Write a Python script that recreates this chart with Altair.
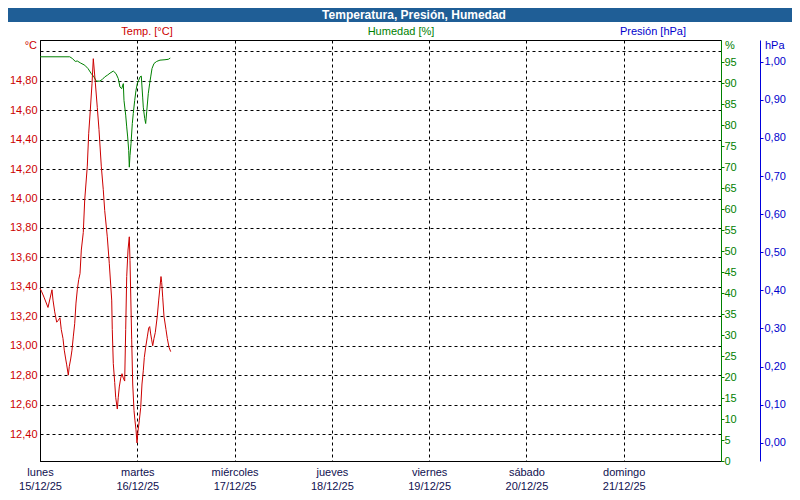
import altair as alt
import pandas as pd

# ---------------- data (hours since lunes 15/12/25 00:00) ----------------
temp_hours = [0, 0.37, 0.99, 1.97, 2.96, 3.21, 3.63, 4.12, 4.44, 4.93, 5.25, 5.67, 5.99, 6.34,
              6.59, 6.98, 7.23, 7.57, 7.89, 8.21, 8.56, 8.88, 9.20, 9.55, 9.87, 10.19, 10.68,
              11.03, 11.67, 12.01, 12.41, 12.83, 13.15, 13.64, 14.13, 14.55, 15.12, 15.61,
              15.96, 16.60, 17.09, 17.69, 17.83, 18.08, 18.43, 18.67, 19.07, 19.31, 19.56,
              19.91, 20.23, 20.55, 20.89, 21.14, 21.39, 21.71, 22.03, 22.20, 22.62, 22.87,
              23.19, 23.43, 23.68, 23.93, 24.17, 24.49, 24.84, 25.16, 25.48, 25.73, 26.07,
              26.47, 26.81, 27.06, 27.31, 27.55, 27.80, 28.12, 28.44, 28.93, 29.28, 29.60,
              29.85, 30.02, 30.27, 30.59, 31.08, 31.40, 31.82, 32.24]
temp_values = [13.39, 13.37, 13.33, 13.26, 13.38, 13.31, 13.23, 13.16, 13.17, 13.19, 13.11, 13.05,
               12.97, 12.91, 12.87, 12.80, 12.86, 12.91, 12.97, 13.06, 13.15, 13.29, 13.38, 13.45,
               13.49, 13.65, 13.77, 13.99, 14.22, 14.44, 14.60, 14.78, 14.95, 14.79, 14.62, 14.47,
               14.22, 14.06, 13.92, 13.74, 13.56, 13.31, 13.11, 12.88, 12.75, 12.65, 12.57, 12.65,
               12.72, 12.78, 12.81, 12.78, 12.76, 13.11, 13.47, 13.65, 13.74, 13.58, 13.04, 12.74,
               12.56, 12.49, 12.43, 12.34, 12.42, 12.49, 12.58, 12.74, 12.83, 12.92, 12.99, 13.06,
               13.12, 13.13, 13.08, 13.04, 13.00, 13.05, 13.09, 13.20, 13.31, 13.40, 13.47, 13.43,
               13.33, 13.20, 13.11, 13.05, 12.99, 12.96]

hum_hours = [0, 7.33, 7.97, 8.71, 9.20, 10.04, 11.03, 11.84, 12.65, 13.32, 13.89, 14.73, 15.37,
             15.96, 16.60, 17.27, 18.08, 18.75, 19.31, 19.73, 20.15, 20.55, 20.72, 21.14, 21.39,
             21.63, 21.88, 22.03, 22.20, 22.45, 22.77, 23.01, 23.36, 23.68, 24.00, 24.35, 24.67,
             24.99, 25.34, 25.48, 25.83, 26.07, 26.32, 26.71, 27.06, 27.31, 27.63, 28.12, 28.79,
             29.60, 30.83, 31.65, 32.14]
hum_values = [96.3, 96.3, 95.9, 95.2, 95.3, 94.8, 94.3, 93.5, 92.3, 91.5, 90.5, 90.5, 90.9,
              91.5, 91.9, 92.4, 92.9, 92.3, 91.1, 89.1, 88.7, 89.9, 85.9, 82.4, 79.6,
              77.2, 74.0, 70.0, 72.8, 75.6, 80.4, 82.8, 85.9, 88.3, 89.9, 90.7, 91.5,
              91.7, 86.5, 84.3, 81.6, 80.4, 83.2, 87.5, 90.0, 91.5, 93.5, 94.7, 95.2,
              95.5, 95.6, 95.7, 96.0]

day_names = ["lunes", "martes", "miércoles", "jueves", "viernes", "sábado", "domingo"]
day_dates = ["15/12/25", "16/12/25", "17/12/25", "18/12/25", "19/12/25", "20/12/25", "21/12/25"]
day_ticks = [0, 24, 48, 72, 96, 120, 144]
temp_ticks = [12.4, 12.6, 12.8, 13.0, 13.2, 13.4, 13.6, 13.8, 14.0, 14.2, 14.4, 14.6, 14.8, 15.0]
hum_ticks = [0, 5, 10, 15, 20, 25, 30, 35, 40, 45, 50, 55, 60, 65, 70, 75, 80, 85, 90, 95]
pres_ticks = [0.0, 0.1, 0.2, 0.3, 0.4, 0.5, 0.6, 0.7, 0.8, 0.9, 1.0]

# ---------------- style ----------------
FONT = "Liberation Sans"
RED = "#cc0000"
GREEN = "#008000"
BLUE = "#0000cc"
NAVY = "#101050"
BAR = "#1f5e96"
W, H = 681, 421

temp_df = pd.DataFrame({"h": temp_hours, "t": temp_values})
hum_df = pd.DataFrame({"h": hum_hours, "hum": hum_values})
pres_df = pd.DataFrame({"h": [0.0], "p": [0.5]})
one = pd.DataFrame({"a": [0]})

names_js = "[" + ",".join(f"'{n}'" for n in day_names) + "]"
dates_js = "[" + ",".join(f"'{d}'" for d in day_dates) + "]"

x_enc = alt.X(
    "h:Q",
    scale=alt.Scale(domain=[0, 168], nice=False, zero=False),
    axis=alt.Axis(
        values=day_ticks,
        labelExpr=f"[{names_js}[floor(datum.value/24)], {dates_js}[floor(datum.value/24)]]",
        title=None, grid=True, gridDash=[3, 3], gridColor="black", gridOpacity=1,
        domainColor="black", ticks=False, labelColor=NAVY, labelFont=FONT,
        labelFontSize=11, labelPadding=5, labelLineHeight=14, labelOverlap=False,
        labelFlush=False, labelBaseline="top",
    ),
)

pres = alt.Chart(pres_df).mark_point(opacity=0).encode(
    x=x_enc,
    y=alt.Y(
        "p:Q",
        scale=alt.Scale(domain=[-0.048, 1.057], nice=False, zero=False),
        axis=alt.Axis(
            orient="right", offset=39, values=pres_ticks, title=None, grid=False,
            labelExpr="replace(format(datum.value, '.2f'), '.', ',')",
            domainColor="#0000dd", tickColor="#0000dd", tickSize=3, labelPadding=1,
            labelColor=BLUE, labelFont=FONT, labelFontSize=11, labelOverlap=False,
            labelFlush=False,
        ),
    ),
)

hum = alt.Chart(hum_df).mark_line(color=GREEN, strokeWidth=1).encode(
    x=x_enc,
    y=alt.Y(
        "hum:Q",
        scale=alt.Scale(domain=[0, 100.3], nice=False, zero=False),
        axis=alt.Axis(
            orient="right", values=hum_ticks, title=None, grid=False,
            domainColor=GREEN, tickColor=GREEN, tickSize=3, labelPadding=0,
            labelColor=GREEN, labelFont=FONT, labelFontSize=11, labelOverlap=False,
            labelFlush=False,
        ),
    ),
)

temp = alt.Chart(temp_df).mark_line(color=RED, strokeWidth=1).encode(
    x=x_enc,
    y=alt.Y(
        "t:Q",
        scale=alt.Scale(domain=[12.217, 15.077], nice=False, zero=False),
        axis=alt.Axis(
            orient="left", values=temp_ticks, title=None, grid=True,
            gridDash=[3, 3], gridColor="black", gridOpacity=1, ticks=False,
            labelExpr="datum.value > 14.9 ? '' : replace(format(datum.value, '.2f'), '.', ',')",
            domainColor="black", labelPadding=3, labelColor=RED, labelFont=FONT,
            labelFontSize=11, labelOverlap=False, labelFlush=False,
        ),
    ),
)

bar = alt.Chart(one).mark_rect(color=BAR).encode(
    x=alt.value(-32), x2=alt.value(752), y=alt.value(-32), y2=alt.value(-18)
)


def label(text, x, y, color, align="center", size=11, weight="normal"):
    return alt.Chart(one).mark_text(
        text=text, color=color, align=align, baseline="middle", font=FONT,
        fontSize=size, fontWeight=weight,
    ).encode(x=alt.value(x), y=alt.value(y))


texts = [
    label("Temperatura, Presión, Humedad", 374, -25, "white", size=12, weight="bold"),
    label("Temp. [°C]", 107, -8, RED),
    label("Humedad [%]", 361, -8, GREEN),
    label("Presión [hPa]", 613, -8, BLUE),
    label("°C", -3, 6, RED, align="right"),
    label("%", 685, 6, GREEN, align="left"),
    label("hPa", 725, 6, BLUE, align="left"),
]

chart = (
    alt.layer(pres, hum, temp, bar, *texts)
    .resolve_scale(y="independent")
    .properties(
        width=W, height=H,
        padding={"left": 32, "top": 32, "right": 71, "bottom": 31},
        autosize=alt.AutoSizeParams(type="none"),
        background="white",
    )
    .configure_view(stroke="black", strokeWidth=1)
)

chart.save("out.html", embed_options={"renderer": "svg", "actions": False})
